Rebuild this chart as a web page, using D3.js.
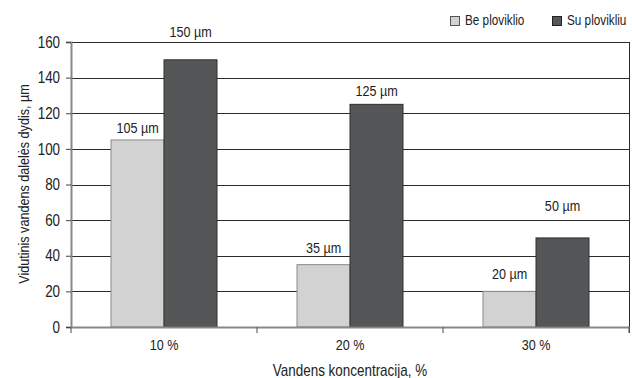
<!DOCTYPE html>
<html><head><meta charset="utf-8">
<script src="https://cdn.jsdelivr.net/npm/d3@7"></script>
<style>body{margin:0;background:#fff}text{font-family:"Liberation Sans",Arial,sans-serif;fill:#222}</style>
</head><body><svg id="c" width="632" height="378"></svg>
<script>
const categories = ["10 %", "20 %", "30 %"];
const seriesNames = ["Be ploviklio", "Su plovikliu"];
const beValues = [105, 35, 20];
const suValues = [150, 125, 50];
const yTicks = [0, 20, 40, 60, 80, 100, 120, 140, 160];
const yTitle = "Vidutinis vandens dalelės dydis, µm";
const xTitle = "Vandens koncentracija, %";

const NARROW = 0.84;
const svg = d3.select("#c");
const L = 71, R = 629, T = 42, B = 327;
const x0 = d3.scaleBand().domain(categories).range([L, R]).paddingInner(0).paddingOuter(0);
const x1 = d3.scaleBand().domain(seriesNames).range([0, x0.bandwidth()]).paddingInner(0).paddingOuter(0.755);
const y = d3.scaleLinear().domain([0, 160]).range([B, T]);
const fills = ["#d2d2d2", "#555657"];
const strokes = ["#8a8a8a", "#2e2e2e"];
const series = [beValues, suValues];
const labelLift = [[7, 23], [12, 8], [12, 27]];

function txt(parent, x, yy, str, size, anchor, rot) {
  return parent.append("text")
    .attr("transform", `translate(${x},${yy})` + (rot ? ` rotate(${rot})` : "") + ` scale(${NARROW},1)`)
    .attr("text-anchor", anchor || "start").attr("font-size", size).text(str);
}

// gridlines
svg.append("g").selectAll("line").data(yTicks.filter(d => d > 0)).join("line")
  .attr("x1", L).attr("x2", R).attr("y1", d => Math.round(y(d)) + 0.5).attr("y2", d => Math.round(y(d)) + 0.5)
  .attr("stroke", "#2a2a2a").attr("stroke-width", 1);
// right border
svg.append("line").attr("x1", R + 0.5).attr("x2", R + 0.5).attr("y1", T).attr("y2", B + 6)
  .attr("stroke", "#2a2a2a").attr("stroke-width", 1);

// bars
categories.forEach((c, i) => {
  series.forEach((s, j) => {
    const bx = x0(c) + x1(seriesNames[j]);
    svg.append("rect")
      .attr("x", bx).attr("y", y(s[i]))
      .attr("width", x1.bandwidth()).attr("height", B - y(s[i]))
      .attr("fill", fills[j]).attr("stroke", strokes[j]).attr("stroke-width", 1);
    txt(svg, bx + x1.bandwidth() / 2, y(s[i]) - labelLift[i][j], s[i] + " µm", 15, "middle");
  });
});

// y axis
const yAxis = d3.axisLeft(y).tickValues(yTicks).tickSize(5).tickPadding(8);
const gy = svg.append("g").attr("transform", `translate(${L},0)`).call(yAxis);
gy.select(".domain").attr("stroke", "#888").attr("stroke-width", 2);
gy.selectAll(".tick line").attr("stroke", "#444");
gy.selectAll(".tick text").attr("font-size", 16).attr("fill", "#222")
  .attr("transform", `scale(${NARROW},1)`)
  .style("font-family", '"Liberation Sans",Arial,sans-serif');

// x axis
const xAxis = d3.axisBottom(x0).tickSize(0).tickPadding(12);
const gx = svg.append("g").attr("transform", `translate(0,${B})`).call(xAxis);
gx.select(".domain").attr("stroke", "#888").attr("stroke-width", 2);
gx.selectAll(".tick text").attr("font-size", 15).attr("fill", "#222")
  .attr("transform", `scale(${NARROW},1)`)
  .style("font-family", '"Liberation Sans",Arial,sans-serif');
svg.append("g").selectAll("line").data([L, ...categories.slice(1).map(d => x0(d)), R]).join("line")
  .attr("x1", d => d).attr("x2", d => d).attr("y1", B).attr("y2", B + 6)
  .attr("stroke", "#666").attr("stroke-width", 1.2);

// titles
txt(svg, 350, 376, xTitle, 16, "middle");
txt(svg, 29, 184, yTitle, 15, "middle", -90);

// legend
const legX = [450, 552];
seriesNames.forEach((n, j) => {
  svg.append("rect").attr("x", legX[j] + 0.5).attr("y", 16.5).attr("width", 9).attr("height", 9)
    .attr("fill", fills[j]).attr("stroke", j ? "#222" : "#555").attr("stroke-width", 1);
  txt(svg, legX[j] + 15, 25, n, 14, "start");
});
</script></body></html>
